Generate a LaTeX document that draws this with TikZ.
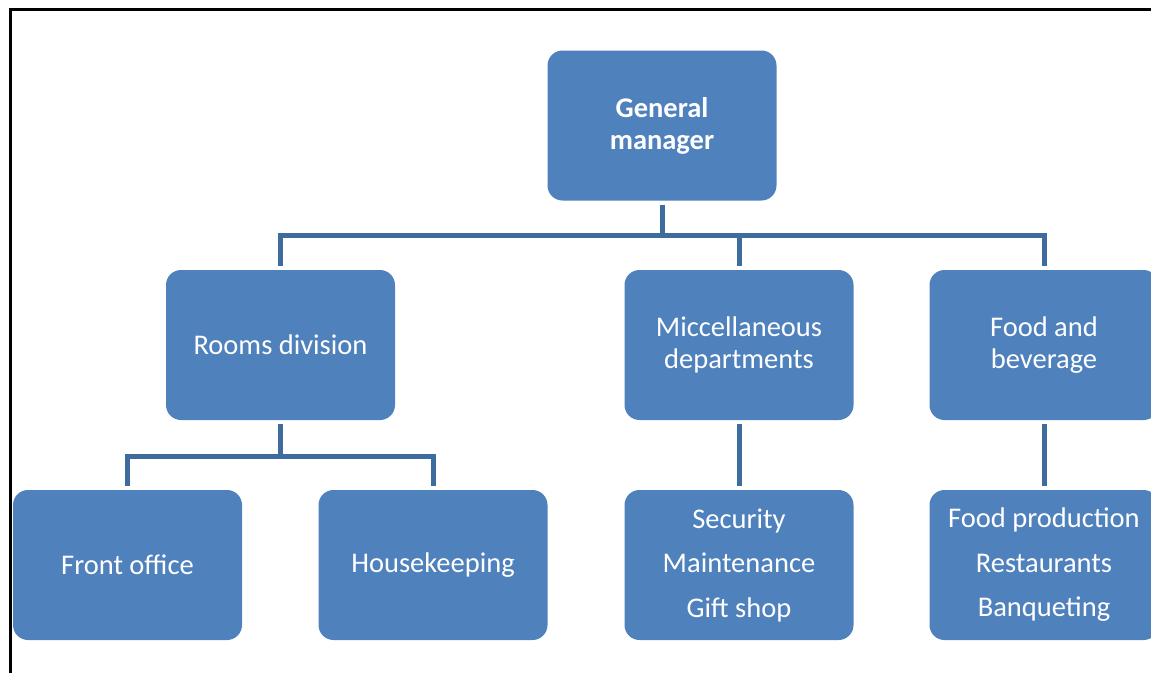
\documentclass[tikz,border=0pt]{standalone}
\usepackage{fontspec}
\setmainfont{Carlito}
\definecolor{boxblue}{HTML}{4F81BD}
\definecolor{linkblue}{HTML}{3F6C9E}
\begin{document}
\begin{tikzpicture}[x=1pt,y=-1pt,
  unit/.style={fill=boxblue, rounded corners=15pt, minimum width=229pt,
    minimum height=150pt, text=white, align=center, inner sep=0pt,
    font=\fontsize{28.5}{32}\selectfont},
  listunit/.style={unit, font=\fontsize{28.5}{44.5}\selectfont},
  conn/.style={draw=linkblue, line width=5pt, shorten <=4pt, shorten >=4pt}]
\useasboundingbox (0,0) rectangle (1151,673);
\clip (0,0) rectangle (1151,673);
\fill[white] (0,0) rectangle (1151,673);
% outer frame (top and left edges)
\draw[line width=3pt] (10.5,673) -- (10.5,9.5) -- (1151,9.5);

% boxes
\node[unit, font=\bfseries\fontsize{28.5}{32}\selectfont] (gm) at (662,125.5) {General\\manager};
\node[unit] (rd) at (280.5,345) {Rooms division};
\node[unit] (misc) at (739,345) {Miccellaneous\\departments};
\node[unit] (fb) at (1044,345) {Food and\\beverage};
\node[unit] (fo) at (127.5,565) {Front office};
\node[unit] (hk) at (433,565) {Housekeeping};
\node[listunit] (sec) at (739,565) {Security\\Maintenance\\Gift shop};
\node[listunit] (fp) at (1044,565) {Food production\\Restaurants\\Banqueting};

% connectors
\coordinate (bar) at (662,235);
\coordinate (rbar) at (280.5,456);
\draw[conn, shorten >=0pt] (gm.south) -- (gm.south |- bar);
\draw[conn] (rd.north) |- (bar) -| (fb.north);
\draw[conn, shorten <=0pt] (misc.north |- bar) -- (misc.north);
\draw[conn, shorten >=0pt] (rd.south) -- (rbar);
\draw[conn] (fo.north) |- (rbar) -| (hk.north);
\draw[conn] (misc.south) -- (sec.north);
\draw[conn] (fb.south) -- (fp.north);
\end{tikzpicture}
\end{document}
